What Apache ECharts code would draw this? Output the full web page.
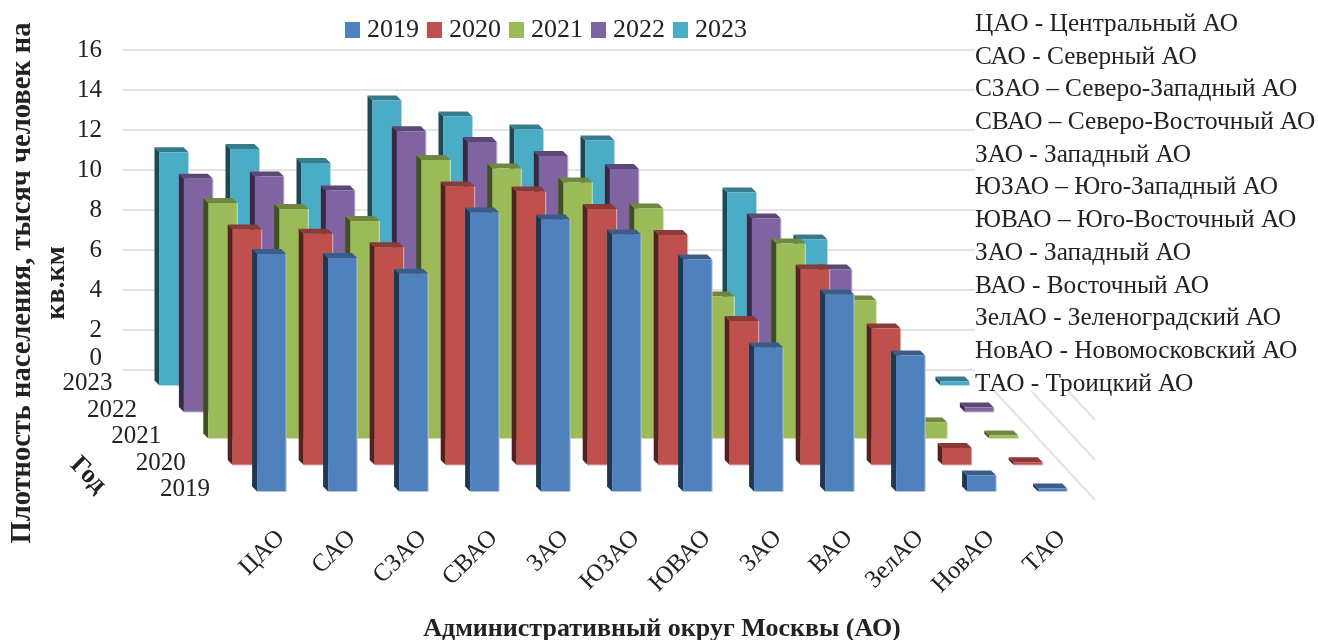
<!DOCTYPE html>
<html>
<head>
<meta charset="utf-8">
<title>Плотность населения по округам Москвы</title>
<script src="https://cdn.jsdelivr.net/npm/echarts@6/dist/echarts.min.js"></script>
<style>html,body{margin:0;background:#fff}#chart{width:1318px;height:640px}</style>
</head>
<body>
<div id="chart"></div>
<script>
const districts = ['ЦАО','САО','СЗАО','СВАО','ЗАО','ЮЗАО','ЮВАО','ЗАО','ВАО','ЗелАО','НовАО','ТАО'];
const years = ['2019','2020','2021','2022','2023'];
const density2019 = [11.88,11.67,10.89,13.95,13.6,12.85,11.6,7.2,9.85,6.8,0.8,0.15];
const density2020 = [11.77,11.56,10.89,13.93,13.67,12.8,11.5,7.2,9.78,6.83,0.85,0.14];
const density2021 = [11.78,11.48,10.87,13.93,13.5,12.8,11.5,7.1,9.75,6.9,0.8,0.15];
const density2022 = [11.66,11.77,11.07,14.04,13.5,12.8,12.15,7.15,9.68,7.13,0.8,0.22];
const density2023 = [11.66,11.83,11.13,14.25,13.45,12.8,12.25,7.2,9.65,7.3,0.8,0.2];
const yearValues = [density2019,density2020,density2021,density2022,density2023];
const yearColors = ['#4F81BD','#C0504D','#9BBB59','#8064A2','#4BACC6'];
const districtNotes = [
  'ЦАО - Центральный АО','САО - Северный АО','СЗАО – Северо-Западный АО',
  'СВАО – Северо-Восточный АО','ЗАО - Западный АО','ЮЗАО – Юго-Западный АО',
  'ЮВАО – Юго-Восточный АО','ЗАО - Западный АО','ВАО - Восточный АО',
  'ЗелАО - Зеленоградский АО','НовАО - Новомосковский АО','ТАО - Троицкий АО'
];
const wallTicks = [0,2,4];

const SERIF = '"Liberation Serif","Times New Roman",serif';
const INK = '#222';
const FONT = 25;
// Oblique projection: each year row steps forward by this much, rear row first.
const ROW_DX = 24.4, ROW_DY = 26.5, REAR_DX = 15.5, REAR_DY = 15.5;
const BAR_W = 29, DEPTH = 5;

function shade(hex, k) {
  const n = parseInt(hex.slice(1), 16);
  const c = [n >> 16, (n >> 8) & 255, n & 255].map(v => Math.round(v * k));
  return 'rgb(' + c.join(',') + ')';
}
function tint(hex, k) {
  const n = parseInt(hex.slice(1), 16);
  const c = [n >> 16, (n >> 8) & 255, n & 255].map(v => Math.round(v + (255 - v) * k));
  return 'rgb(' + c.join(',') + ')';
}

function barRenderer(row) {
  const color = yearColors[row];
  return function (params, api) {
    const idx = api.value(0);
    const top = api.coord([idx, api.value(1)]);
    const base = api.coord([idx, 0]);
    const ox = REAR_DX + (4 - row) * ROW_DX, oy = REAR_DY + (4 - row) * ROW_DY;
    const l = top[0] + ox - BAR_W / 2, r = l + BAR_W;
    const t = top[1] + oy, b = base[1] + oy;
    const children = [
      { type: 'polygon', shape: { points: [[l - DEPTH, t - DEPTH], [l, t], [l, b], [l - DEPTH, b - DEPTH]] },
        style: { fill: shade(color, 0.42) } },
      { type: 'polygon', shape: { points: [[l - DEPTH, t - DEPTH], [r - DEPTH, t - DEPTH], [r, t], [l, t]] },
        style: { fill: shade(color, 0.72) } },
      { type: 'rect', shape: { x: l, y: t, width: BAR_W, height: b - t }, style: { fill: color } },
      { type: 'polyline', shape: { points: [[r, t], [r, b], [l, b]] },
        style: { fill: null, stroke: tint(color, 0.55), lineWidth: 1 } }
    ];
    if (params.dataIndex === 0) {
      children.push({ type: 'text', style: { x: l - 47, y: b - 2, text: years[row], align: 'right',
        verticalAlign: 'middle', font: FONT + 'px ' + SERIF, fill: INK } });
    }
    return { type: 'group', children };
  };
}

function wallRenderer(params, api) {
  const p = api.coord([11, api.value(0)]);
  const x0 = 123 + 852;
  return { type: 'line', shape: { x1: x0, y1: p[1], x2: x0 + 120, y2: p[1] + 130 },
    style: { stroke: '#e3e3e3', lineWidth: 2 } };
}

const barSeries = [4,3,2,1,0].map(row => ({
  name: years[row],
  type: 'custom',
  xAxisIndex: 0, yAxisIndex: 0,
  itemStyle: { color: yearColors[row] },
  silent: true,
  clip: false,
  encode: { x: 0, y: 1 },
  data: yearValues[row].map((v, i) => [i, v]),
  renderItem: barRenderer(row)
}));

const chart = echarts.init(document.getElementById('chart'), null, { renderer: 'canvas' });
chart.setOption({
  animation: false,
  backgroundColor: '#fff',
  textStyle: { fontFamily: SERIF, color: INK },
  legend: {
    left: 340, top: 12,
    data: years,
    icon: 'rect',
    itemWidth: 15, itemHeight: 16, itemGap: 8,
    selectedMode: false,
    textStyle: { fontFamily: SERIF, fontSize: 26, color: INK, padding: [0, 0, 0, 2] }
  },
  grid: [
    { left: 123, top: 50, width: 852, height: 320 },
    { left: 245.5, top: 490, width: 852, height: 1 }
  ],
  xAxis: [
    { gridIndex: 0, type: 'category', data: districts, show: false },
    { gridIndex: 1, type: 'category', data: districts,
      axisLine: { show: false }, axisTick: { show: false },
      axisLabel: { interval: 0, rotate: 45, margin: 44, fontFamily: SERIF, fontSize: FONT, color: INK },
      name: 'Административный округ Москвы (АО)',
      nameLocation: 'middle', nameGap: 126,
      nameTextStyle: { fontFamily: SERIF, fontSize: 26, fontWeight: 'bold', color: INK, padding: [0, 19, 0, 0] }
    }
  ],
  yAxis: [
    { gridIndex: 0, type: 'value', min: 0, max: 16, interval: 2,
      axisLine: { show: false }, axisTick: { show: false },
      splitLine: { show: true, lineStyle: { color: '#e3e3e3', width: 2 } },
      axisLabel: { margin: 21, color: INK, fontFamily: SERIF, fontSize: FONT,
        formatter: v => v === 0 ? '{low|0}' : String(v),
        rich: { low: { fontFamily: SERIF, fontSize: FONT, color: INK, padding: [0, 0, 24, 0] } } }
    },
    { gridIndex: 1, type: 'value', min: 0, max: 1, show: false }
  ],
  series: [{
    type: 'custom', silent: true, clip: false, z: 1,
    xAxisIndex: 0, yAxisIndex: 0,
    encode: { y: 0 },
    data: wallTicks.map(v => [v]),
    renderItem: wallRenderer
  }].concat(barSeries),
  graphic: [
    // Panel behind the district key hides the upper part of the side wall.
    { type: 'rect', z: 20, left: 975, top: 0, shape: { width: 343, height: 391 }, style: { fill: '#fff' } },
    { type: 'text', z: 21, x: 975, y: 8,
      style: { text: districtNotes.join('\n'), font: '25.3px ' + SERIF, lineHeight: 32.7, fill: INK } },
    { type: 'text', z: 21, x: 23, y: 283, rotation: Math.PI / 2,
      style: { text: 'Плотность населения, тысяч человек на', align: 'center', verticalAlign: 'middle',
        font: 'bold 28.5px ' + SERIF, fill: INK } },
    { type: 'text', z: 21, x: 57, y: 283, rotation: Math.PI / 2,
      style: { text: 'кв.км', align: 'center', verticalAlign: 'middle', font: 'bold 28px ' + SERIF, fill: INK } },
    { type: 'text', z: 21, x: 88, y: 475, rotation: -Math.PI / 4,
      style: { text: 'Год', align: 'center', verticalAlign: 'middle', font: 'bold 26px ' + SERIF, fill: INK } }
  ]
});
</script>
</body>
</html>
